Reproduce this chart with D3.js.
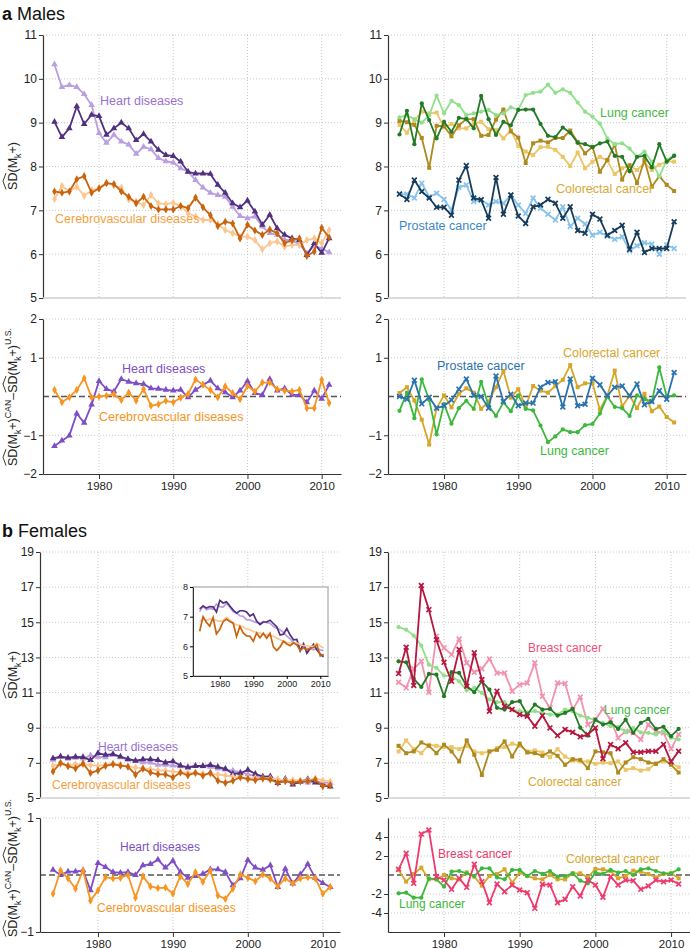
<!DOCTYPE html>
<html><head><meta charset="utf-8">
<script src="https://cdn.jsdelivr.net/npm/d3@7"></script>
<style>body{margin:0;background:#fff;} text{font-family:"Liberation Sans",Arial,sans-serif;}</style>
</head><body><svg id="c" width="690" height="949"></svg>
<script>
const years = [1974,1975,1976,1977,1978,1979,1980,1981,1982,1983,1984,1985,1986,1987,1988,1989,1990,1991,1992,1993,1994,1995,1996,1997,1998,1999,2000,2001,2002,2003,2004,2005,2006,2007,2008,2009,2010,2011];
const decadeTicks = [1980,1990,2000,2010];

// ---- Males ----
const mHeartCAN = [9.02,8.67,8.87,9.37,8.97,9.18,9.15,8.72,8.87,9.00,8.87,8.60,8.74,8.57,8.38,8.26,8.24,8.11,7.88,7.84,7.84,7.83,7.58,7.40,7.16,7.07,7.22,6.97,6.67,6.90,6.59,6.44,6.36,6.32,5.98,6.25,6.03,6.36];
const mHeartUS  = [10.33,9.81,9.86,9.81,9.65,9.40,8.76,8.54,8.72,8.57,8.50,8.29,8.45,8.39,8.19,8.12,8.09,7.96,7.88,7.69,7.52,7.40,7.35,7.31,7.08,6.87,6.82,6.86,6.63,6.48,6.44,6.33,6.31,6.23,6.02,6.19,6.13,6.04];
const mCereCAN  = [7.43,7.40,7.43,7.71,7.78,7.40,7.50,7.62,7.60,7.43,7.31,7.16,7.31,7.10,7.02,7.02,7.02,7.10,7.05,7.29,7.07,6.89,6.64,6.74,6.70,6.36,6.67,6.54,6.44,6.56,6.48,6.25,6.32,6.36,5.96,6.06,6.60,6.38];
const mCereUS   = [7.26,7.56,7.43,7.54,7.33,7.46,7.50,7.63,7.56,7.52,7.25,7.20,7.12,7.35,7.16,7.14,7.17,7.10,6.93,6.86,6.78,6.78,6.69,6.55,6.48,6.40,6.40,6.32,6.11,6.25,6.29,6.17,6.21,6.21,6.32,6.36,6.25,6.55];
const mLungCAN  = [8.73,9.27,8.51,9.44,9.06,8.64,9.02,8.79,9.11,9.08,8.87,9.61,9.08,8.72,9.02,8.94,9.29,9.30,9.30,8.97,8.70,8.67,8.89,8.77,8.54,8.51,8.44,8.53,8.57,8.24,8.22,7.89,8.22,8.24,7.98,8.51,8.11,8.24];
const mLungUS   = [9.12,9.17,9.08,9.00,9.17,9.62,9.21,9.50,9.40,9.17,9.21,9.25,9.29,9.17,9.21,9.35,9.30,9.63,9.68,9.71,9.87,9.68,9.76,9.68,9.46,9.25,9.14,8.98,8.64,8.51,8.53,8.41,8.22,8.34,8.11,7.77,8.15,8.26];
const mColCAN   = [9.04,9.01,8.95,8.65,7.97,8.93,8.92,8.69,8.94,9.08,9.08,8.70,8.72,9.07,9.30,8.80,8.66,8.08,8.53,8.59,8.55,8.65,8.65,8.82,8.56,8.30,8.45,7.88,8.15,8.50,7.70,8.03,7.62,8.15,7.54,7.78,7.58,7.44];
const mColUS    = [8.95,8.77,9.05,9.25,9.21,9.23,8.89,8.97,8.87,8.87,8.98,9.02,8.85,8.83,8.64,8.83,8.47,8.34,8.26,8.44,8.45,8.38,8.22,8.01,8.32,7.96,8.11,8.22,8.13,7.83,7.96,8.01,7.92,8.08,7.92,8.04,8.11,8.11];
const mProCAN   = [7.37,7.25,7.69,7.43,7.28,7.07,7.07,6.89,7.69,8.02,7.28,7.24,6.82,7.75,6.91,7.35,6.87,6.70,7.08,7.12,7.25,7.16,6.82,7.08,6.54,6.48,6.91,6.80,6.43,6.54,6.66,6.11,6.50,6.04,6.13,6.13,6.13,6.74];
const mProUS    = [7.37,7.37,7.28,7.62,7.31,7.39,7.25,7.01,7.52,7.58,7.20,7.24,7.12,7.20,7.16,7.35,7.12,6.93,7.28,7.05,6.91,6.78,7.08,6.63,6.82,6.69,6.43,6.50,6.41,6.34,6.40,6.08,6.19,6.26,6.23,6.00,6.21,6.13];
const mHeartDiff = [-1.28,-1.14,-1.01,-0.44,-0.68,-0.21,0.40,0.19,0.13,0.45,0.38,0.34,0.32,0.21,0.20,0.17,0.15,0.17,-0.02,0.17,0.30,0.41,0.21,0.11,-0.02,0.15,0.40,0.09,0.04,0.45,0.15,0.21,0.04,0.04,-0.15,0.15,-0.06,0.30];
const mCereDiff  = [0.17,-0.15,-0.02,0.17,0.47,-0.03,0.00,0.02,0.06,-0.09,0.10,-0.11,0.19,-0.24,-0.20,-0.11,-0.15,-0.03,0.06,0.44,0.30,0.17,-0.02,0.26,0.09,-0.07,0.27,0.13,0.36,0.36,0.19,0.15,0.13,0.17,-0.30,-0.30,0.43,-0.17];
const mProDiff   = [0.00,-0.07,0.42,-0.19,-0.02,-0.30,-0.24,-0.09,0.19,0.45,0.03,0.00,-0.30,0.53,-0.13,0.06,-0.24,-0.17,-0.17,0.24,0.36,0.38,-0.27,0.45,-0.24,-0.20,0.47,0.30,0.02,0.24,0.27,0.02,0.32,-0.21,-0.13,0.15,-0.07,0.62];
const mColDiff   = [0.09,0.24,-0.10,-0.60,-1.24,-0.30,0.03,-0.28,0.07,0.21,0.10,-0.32,-0.13,0.24,0.66,-0.03,0.19,-0.26,0.27,0.15,0.10,0.27,0.43,0.81,0.24,0.34,0.34,-0.34,0.02,0.67,-0.26,0.02,-0.30,0.07,-0.38,-0.26,-0.53,-0.67];
const mLungDiff  = [-0.37,0.10,-0.56,0.44,-0.09,-0.98,-0.19,-0.70,-0.30,-0.11,-0.32,0.38,-0.24,-0.50,-0.15,-0.38,0.03,-0.32,-0.36,-0.75,-1.18,-1.03,-0.85,-0.92,-0.92,-0.74,-0.71,-0.44,0.00,-0.27,-0.30,-0.50,0.03,-0.07,-0.13,0.75,0.00,0.03];

// ---- Females ----
const fHeartCAN = [7.26,7.36,7.29,7.34,7.33,7.16,7.55,7.46,7.50,7.36,7.22,7.12,7.20,7.20,7.16,7.02,7.09,6.85,6.73,6.82,6.82,6.88,6.77,6.66,6.38,6.41,6.60,6.38,6.22,6.23,5.85,6.09,5.77,5.93,6.07,5.88,5.74,5.65];
const fHeartUS  = [7.17,7.36,7.23,7.28,7.25,7.43,7.34,7.32,7.45,7.32,7.17,7.12,7.03,7.01,6.89,6.89,6.84,6.80,6.78,6.84,6.80,6.78,6.67,6.61,6.56,6.47,6.34,6.25,6.13,6.06,6.06,5.98,5.92,5.92,5.88,5.93,5.88,5.86];
const fCereCAN  = [6.51,7.00,6.81,6.68,6.97,6.42,6.57,6.83,6.92,6.84,6.78,6.33,6.67,6.45,6.35,6.34,6.17,6.45,6.29,6.44,6.27,6.44,5.98,5.86,5.98,6.18,6.08,6.02,6.12,6.05,5.86,5.96,5.87,5.94,5.96,6.05,5.67,5.73];
const fCereUS   = [6.84,6.92,6.87,6.92,6.89,6.87,6.84,6.87,6.98,6.89,6.78,6.73,6.69,6.65,6.58,6.56,6.50,6.47,6.45,6.39,6.39,6.36,6.34,6.28,6.22,6.17,6.13,6.13,6.11,6.11,6.06,6.02,6.02,6.00,6.00,6.11,6.00,5.94];
const fBreastCAN = [12.08,13.58,11.40,17.09,15.72,14.01,12.72,11.64,13.45,11.36,13.26,11.74,9.94,11.08,10.22,10.03,9.75,9.65,9.09,9.69,8.99,8.55,8.90,8.74,8.48,8.61,8.99,7.23,8.04,7.80,8.14,7.61,7.61,7.66,7.66,8.05,7.07,7.66];
const fBreastUS  = [11.59,11.27,12.35,12.78,11.02,14.20,13.54,13.16,14.05,12.69,12.16,12.35,12.91,12.12,12.12,11.08,11.45,11.55,12.69,10.79,10.13,11.55,11.51,10.03,10.75,9.18,9.46,10.07,9.46,8.42,8.80,8.71,8.33,9.18,8.80,8.71,7.80,8.61];
const fLungCAN   = [12.78,12.72,11.78,11.32,12.06,12.02,10.79,12.16,12.12,11.36,11.02,11.64,11.17,10.13,10.03,10.45,10.51,9.75,10.32,10.03,10.07,9.69,9.84,10.07,9.00,8.55,9.46,9.18,9.31,8.93,9.46,8.71,9.27,9.50,8.93,9.05,8.52,8.93];
const fLungUS    = [14.73,14.58,14.24,13.67,12.59,12.40,11.97,11.93,11.64,11.13,11.27,10.98,10.60,10.45,10.45,10.03,9.94,9.88,9.94,9.84,9.75,9.75,10.03,9.94,9.69,9.56,9.43,9.27,9.09,9.05,8.74,8.99,8.74,8.71,8.61,8.80,8.42,8.33];
const fColCAN    = [7.97,7.55,7.65,8.16,7.97,7.55,8.03,7.65,7.08,8.28,7.46,6.31,7.65,7.74,8.22,7.36,8.09,7.59,7.55,7.40,7.65,7.40,6.89,7.21,7.17,6.70,7.65,7.60,7.55,6.45,7.02,7.32,7.21,7.02,6.94,7.21,6.89,6.45];
const fColUS     = [7.65,8.28,7.78,7.55,8.03,7.97,7.90,7.90,7.78,7.97,7.65,7.55,7.65,7.84,7.90,8.09,7.97,7.65,7.71,7.59,7.32,7.78,7.36,7.13,7.08,7.08,6.94,7.02,6.98,7.08,6.60,6.70,6.56,6.64,6.98,7.08,6.98,6.75];
const fHeartDiff = [0.09,0.00,0.06,0.06,0.08,-0.27,0.21,0.14,0.05,0.04,0.05,0.00,0.17,0.19,0.27,0.13,0.25,0.05,-0.05,-0.02,0.02,0.10,0.10,0.05,-0.18,-0.06,0.26,0.13,0.09,0.17,-0.21,0.11,-0.15,0.01,0.19,-0.05,-0.14,-0.21];
const fCereDiff  = [-0.33,0.08,-0.06,-0.24,0.08,-0.45,-0.27,-0.04,-0.06,-0.05,0.00,-0.40,-0.02,-0.20,-0.23,-0.22,-0.33,-0.02,-0.16,0.05,-0.12,0.08,-0.36,-0.42,-0.24,0.01,-0.05,-0.11,0.01,-0.06,-0.20,-0.06,-0.15,-0.06,-0.04,-0.06,-0.33,-0.21];
const fBreastDiff = [0.60,2.28,-0.88,4.32,4.74,-0.18,-0.53,-1.51,-0.35,-1.30,1.12,-0.70,-2.91,-0.95,-1.75,-1.05,-1.58,-1.86,-3.51,-0.98,-1.05,-2.91,-2.56,-1.23,-2.21,-0.53,-1.05,-2.35,-0.18,-1.05,-0.53,-0.60,-1.51,-1.16,-0.53,-0.70,-0.53,-0.95];
const fColDiff   = [0.53,-0.70,0.11,0.77,-0.46,-0.46,0.00,-0.35,-0.46,0.28,-0.18,-1.12,-0.11,0.11,0.60,-0.81,0.25,-0.11,-0.35,-0.46,0.00,-0.46,-0.46,0.18,0.18,-0.25,0.63,0.60,0.42,-0.35,-0.11,0.46,0.35,0.11,-0.25,0.11,0.18,-0.35];
const fLungDiff  = [-1.93,-1.86,-2.39,-2.39,-0.35,-0.46,-1.23,0.35,0.42,0.18,-0.11,0.70,0.70,-0.25,-0.46,0.53,0.53,-0.11,0.42,0.11,0.42,-0.18,-0.11,0.18,-0.60,-0.88,0.25,0.11,0.53,0.25,0.42,0.00,0.60,0.70,0.42,0.18,0.18,0.60];

const ticksTopM = [5,6,7,8,9,10,11];
const ticksDiffM = [-2,-1,1,2];
const ticksTopF = [5,7,9,11,13,15,17,19];
const ticksDiffFL = [-1,1];
const ticksDiffFR = [-4,-2,2,4];
const ticksInsetY = [5,6,7,8];

const C = {
  heartCAN:'#52307f', heartUS:'#b99fe0', cereCAN:'#c8640f', cereUS:'#fdc590',
  lungCAN:'#247a26', lungUS:'#90e08b', colCAN:'#ae8a1f', colUS:'#ecc567',
  proCAN:'#163c5b', proUS:'#88c3ec', breastCAN:'#b6173f', breastUS:'#f292ae',
  heartD:'#7d4ec6', cereD:'#f89522', lungD:'#3cb83c', colD:'#d6a62a', proD:'#2a73ae', breastD:'#ee3a6c',
  heartL:'#9a6fd1', cereL:'#f79f3e', lungL:'#45b845', colL:'#d8a831', proL:'#3d87c5', breastL:'#ef4f7a'
};

const svg = d3.select('#c');
const FONT = '"Liberation Sans",Arial,sans-serif';
const fmtMinus = d => d < 0 ? '\u2212' + Math.abs(d) : String(d);
const fmtHyphen = d => d < 0 ? '-' + Math.abs(d) : String(d);

function markerPath(type){
  if(type==='x') return 'M-2.4,-2.4L2.4,2.4M-2.4,2.4L2.4,-2.4';
  const m = {tri:[d3.symbolTriangle,19], dia:[d3.symbolDiamond,19], sq:[d3.symbolSquare,16], cir:[d3.symbolCircle,14]}[type];
  return d3.symbol(m[0], m[1])();
}

function panel(p){
  const x = d3.scaleLinear().domain(p.xdom).range([p.x0, p.x1]);
  const y = d3.scaleLinear().domain(p.ydom).range([p.y1, p.y0]);
  const g = svg.append('g');
  g.selectAll('.vg').data(decadeTicks).join('line')
    .attr('x1', d=>x(d)).attr('x2', d=>x(d)).attr('y1', p.y0).attr('y2', p.y1)
    .attr('stroke','#c8c8c8').attr('stroke-dasharray','1,2').attr('stroke-width',1);
  g.selectAll('.hg').data(p.grid).join('line')
    .attr('x1', p.x0).attr('x2', p.x1).attr('y1', d=>y(d)).attr('y2', d=>y(d))
    .attr('stroke','#c8c8c8').attr('stroke-dasharray','1,2').attr('stroke-width',1);
  if(p.zero){
    g.append('line').attr('x1',p.x0).attr('x2',p.x1).attr('y1',y(0)).attr('y2',y(0))
      .attr('stroke','#555').attr('stroke-dasharray','6,3').attr('stroke-width',1.4);
  }
  const ya = d3.axisLeft(y).tickValues(p.yticks).tickSize(4).tickSizeOuter(0).tickPadding(2).tickFormat(p.yfmt || fmtMinus);
  const yg = g.append('g').attr('transform',`translate(${p.x0},0)`).call(ya);
  yg.select('.domain').attr('stroke','#333').attr('stroke-width',1.2);
  yg.selectAll('.tick line').attr('stroke','#333');
  yg.selectAll('text').attr('font-size',12).attr('font-family',FONT).attr('fill','#222');
  if(p.xaxis){
    const xa = d3.axisBottom(x).tickValues(decadeTicks).tickFormat(d3.format('d')).tickSize(5).tickSizeOuter(0).tickPadding(3);
    const xg = g.append('g').attr('transform',`translate(0,${p.y1})`).call(xa);
    xg.select('.domain').attr('stroke','#333').attr('stroke-width',1.2);
    xg.selectAll('.tick line').attr('stroke','#333');
    xg.selectAll('text').attr('font-size',11.5).attr('font-family',FONT).attr('fill','#222');
  } else {
    g.append('line').attr('x1',p.x0).attr('x2',p.x1).attr('y1',p.y1).attr('y2',p.y1).attr('stroke','#d0d0d0').attr('stroke-width',1.5);
  }
  p.series.forEach(s=>{
    const pts = years.map((yr,i)=>[yr, s.v[i]]);
    g.append('path').datum(pts)
      .attr('d', d3.line().x(d=>x(d[0])).y(d=>y(d[1])))
      .attr('fill','none').attr('stroke',s.c).attr('stroke-width',1.8).attr('stroke-linejoin','round');
    const mp = markerPath(s.m);
    g.selectAll(null).data(pts).join('path')
      .attr('transform', d=>`translate(${x(d[0])},${y(d[1])})`)
      .attr('d', mp)
      .attr('fill', s.m==='x' ? 'none' : s.c)
      .attr('stroke', s.m==='x' ? s.c : 'none')
      .attr('stroke-width', 1.7);
  });
  (p.labels||[]).forEach(l=>{
    g.append('text').attr('x',l.x).attr('y',l.y).attr('font-size',l.fs||12.5).attr('font-family',FONT)
      .attr('fill',l.c).text(l.t);
  });
  return {x,y,g};
}

function yLabel(cx, cy, parts, fs){
  const outer = svg.append('g').attr('transform',`translate(${cx},${cy}) rotate(-90)`);
  const g = outer.append('g');
  let xpos = 0;
  parts.forEach(p=>{
    const f = p.sub||p.sup ? fs*0.7 : fs;
    const t = g.append('text').attr('x',xpos).attr('y', p.sub? fs*0.28 : (p.sup? -fs*0.45 : 0))
      .attr('font-size',f).attr('font-family',FONT).attr('fill','#222').text(p.t);
    const w = t.node().getComputedTextLength();
    if(p.hat){
      const top = -fs*0.76;
      g.append('path').attr('d',`M${xpos+0.5},${top-1.5}L${xpos+w/2},${top-4.5}L${xpos+w-0.5},${top-1.5}`)
        .attr('fill','none').attr('stroke','#222').attr('stroke-width',0.9);
    }
    xpos += w;
  });
  g.attr('transform',`translate(${-xpos/2},0)`);
}

const topLabel = [{t:'SD',hat:true},{t:'(M'},{t:'k',sub:true},{t:'+)'}];
const diffLabel = [{t:'SD',hat:true},{t:'(M'},{t:'k',sub:true},{t:'+)'},{t:'CAN',sup:true},{t:'\u2013 '},{t:'SD',hat:true},{t:'(M'},{t:'k',sub:true},{t:'+)'},{t:'U.S.',sup:true}];

svg.append('text').attr('x',2).attr('y',20).attr('font-size',18).attr('font-family',FONT).attr('fill','#111')
  .html('<tspan font-weight="bold">a</tspan> Males');
svg.append('text').attr('x',2).attr('y',537).attr('font-size',18).attr('font-family',FONT).attr('fill','#111')
  .html('<tspan font-weight="bold">b</tspan> Females');

const xdomM = [1972.45, 2012.6];
panel({x0:43,x1:341,y0:35,y1:298,xdom:xdomM,ydom:[5,11],yticks:ticksTopM,grid:[6,7,8,9,10,11],xaxis:false,
  series:[{v:mHeartUS,c:C.heartUS,m:'tri'},{v:mHeartCAN,c:C.heartCAN,m:'tri'},{v:mCereUS,c:C.cereUS,m:'dia'},{v:mCereCAN,c:C.cereCAN,m:'dia'}],
  labels:[{t:'Heart diseases',x:100,y:105,c:C.heartL},{t:'Cerebrovascular diseases',x:55,y:223,c:C.cereL}]});
panel({x0:388,x1:686,y0:35,y1:298,xdom:xdomM,ydom:[5,11],yticks:ticksTopM,grid:[6,7,8,9,10,11],xaxis:false,
  series:[{v:mColUS,c:C.colUS,m:'sq'},{v:mColCAN,c:C.colCAN,m:'sq'},{v:mLungUS,c:C.lungUS,m:'cir'},{v:mLungCAN,c:C.lungCAN,m:'cir'},{v:mProUS,c:C.proUS,m:'x'},{v:mProCAN,c:C.proCAN,m:'x'}],
  labels:[{t:'Lung cancer',x:600,y:117,c:C.lungL},{t:'Colorectal cancer',x:556,y:193,c:C.colL},{t:'Prostate cancer',x:399,y:230,c:C.proL}]});
panel({x0:43,x1:341,y0:319,y1:474,xdom:xdomM,ydom:[-2,2],yticks:ticksDiffM,grid:[1,2,-1],zero:true,xaxis:true,
  series:[{v:mHeartDiff,c:C.heartD,m:'tri'},{v:mCereDiff,c:C.cereD,m:'dia'}],
  labels:[{t:'Heart diseases',x:122,y:373,c:C.heartD},{t:'Cerebrovascular diseases',x:99,y:421,c:C.cereD}]});
panel({x0:388,x1:686,y0:319,y1:474,xdom:xdomM,ydom:[-2,2],yticks:ticksDiffM,grid:[1,2,-1],zero:true,xaxis:true,
  series:[{v:mColDiff,c:C.colD,m:'sq'},{v:mLungDiff,c:C.lungD,m:'cir'},{v:mProDiff,c:C.proD,m:'x'}],
  labels:[{t:'Prostate cancer',x:437,y:370,c:C.proD},{t:'Colorectal cancer',x:563,y:357,c:C.colD},{t:'Lung cancer',x:540,y:455,c:C.lungD}]});

const xdomFL = [1972.26, 2012.3];
panel({x0:40,x1:340,y0:552,y1:798,xdom:xdomFL,ydom:[5,19],yticks:ticksTopF,grid:[7,9,11,13,15,17,19],xaxis:false,
  series:[{v:fHeartUS,c:C.heartUS,m:'tri'},{v:fHeartCAN,c:C.heartCAN,m:'tri'},{v:fCereUS,c:C.cereUS,m:'dia'},{v:fCereCAN,c:C.cereCAN,m:'dia'}],
  labels:[{t:'Heart diseases',x:98,y:751,c:C.heartL,fs:12},{t:'Cerebrovascular diseases',x:52,y:789,c:C.cereL,fs:12}]});
const xdomFR = [1972.6, 2012.5];
panel({x0:388,x1:690,y0:552,y1:798,xdom:xdomFR,ydom:[5,19],yticks:ticksTopF,grid:[7,9,11,13,15,17,19],xaxis:false,
  series:[{v:fColUS,c:C.colUS,m:'sq'},{v:fColCAN,c:C.colCAN,m:'sq'},{v:fBreastUS,c:C.breastUS,m:'x'},{v:fLungUS,c:C.lungUS,m:'cir'},{v:fLungCAN,c:C.lungCAN,m:'cir'},{v:fBreastCAN,c:C.breastCAN,m:'x'}],
  labels:[{t:'Breast cancer',x:528,y:652,c:C.breastL,fs:12},{t:'Lung cancer',x:604,y:714,c:C.lungL,fs:12},{t:'Colorectal cancer',x:528,y:786,c:C.colL,fs:12}]});
panel({x0:40,x1:340,y0:818,y1:932,xdom:xdomFL,ydom:[-1,1],yticks:ticksDiffFL,grid:[1],zero:true,xaxis:true,
  series:[{v:fHeartDiff,c:C.heartD,m:'tri'},{v:fCereDiff,c:C.cereD,m:'dia'}],
  labels:[{t:'Heart diseases',x:120,y:851,c:C.heartD,fs:12},{t:'Cerebrovascular diseases',x:97,y:912,c:C.cereD,fs:12}]});
panel({x0:388,x1:690,y0:818,y1:932,xdom:xdomFR,ydom:[-6,6],yticks:ticksDiffFR,yfmt:fmtHyphen,grid:[-4,-2,2,4,6],zero:true,xaxis:true,
  series:[{v:fColDiff,c:C.colD,m:'sq'},{v:fLungDiff,c:C.lungD,m:'cir'},{v:fBreastDiff,c:C.breastD,m:'x'}],
  labels:[{t:'Breast cancer',x:438,y:858,c:C.breastD,fs:12},{t:'Colorectal cancer',x:566,y:863,c:C.colD,fs:12},{t:'Lung cancer',x:399,y:908,c:C.lungD,fs:12}]});

(function(){
  const x0=193,x1=328,y0=587,y1=676;
  const x = d3.scaleLinear().domain([1972,2012.3]).range([x0,x1]);
  const y = d3.scaleLinear().domain([5,8]).range([y1,y0]);
  const g = svg.append('g');
  g.append('rect').attr('x',x0).attr('y',y0).attr('width',x1-x0).attr('height',y1-y0).attr('fill','#fff').attr('stroke','#aaa').attr('stroke-width',1.2);
  const ya = d3.axisLeft(y).tickValues(ticksInsetY).tickSize(3).tickSizeOuter(0).tickPadding(2).tickFormat(d3.format('d'));
  const yg = g.append('g').attr('transform',`translate(${x0},0)`).call(ya);
  yg.select('.domain').attr('stroke','#333');
  yg.selectAll('text').attr('font-size',9).attr('font-family',FONT).attr('fill','#222');
  const xa = d3.axisBottom(x).tickValues(decadeTicks).tickFormat(d3.format('d')).tickSize(3).tickSizeOuter(0).tickPadding(2);
  const xg = g.append('g').attr('transform',`translate(0,${y1})`).call(xa);
  xg.select('.domain').attr('stroke','#333');
  xg.selectAll('text').attr('font-size',9).attr('font-family',FONT).attr('fill','#222');
  [{v:fHeartUS,c:C.heartUS},{v:fHeartCAN,c:C.heartCAN},{v:fCereUS,c:C.cereUS},{v:fCereCAN,c:C.cereCAN}].forEach(s=>{
    g.append('path').datum(years.map((yr,i)=>[yr,s.v[i]]))
      .attr('d', d3.line().x(d=>x(d[0])).y(d=>y(d[1])))
      .attr('fill','none').attr('stroke',s.c).attr('stroke-width',1.7);
  });
})();

yLabel(17, 166, topLabel, 12.5);
yLabel(17, 397, diffLabel, 12.5);
yLabel(17, 675, topLabel, 12.5);
yLabel(17, 868, diffLabel, 12.5);
</script></body></html>
